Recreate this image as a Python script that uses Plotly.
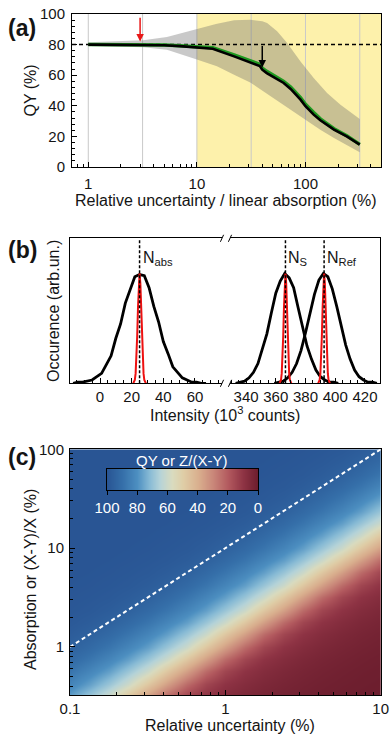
import math
import plotly.graph_objects as go

W, H = 391, 736
def fx(p): return p / W
def fy(p): return 1 - p / H

FONT = "Liberation Sans, Arial, Helvetica, sans-serif"
TXT = "#141414"
TICK = 15
TITLE = 16

# ---------------- Panel (a) data ----------------
grid_x = [1, 3.162, 10, 31.62, 100, 316.2]
qy_x = [1, 2, 3, 5, 7, 10, 14, 22, 33, 38, 40, 44, 63, 73, 90, 100, 119, 137, 183, 240, 316]
qy_black = [80, 80, 80, 79.6, 79, 78.2, 77.3, 72.3, 68, 66, 63.6, 61.4, 54.9, 51, 44, 39.7, 34.2, 30.5, 24.4, 20, 14.6]
qy_green = [80, 80, 80, 79.8, 79.3, 78.6, 78, 73.2, 68.9, 67.1, 64.6, 62.5, 56, 52.3, 45.4, 41, 35.6, 31.5, 25, 20.5, 14.8]
band_up_x = [1, 2, 3.2, 5.3, 10, 15, 22, 31, 40, 44.3, 54.8, 67.8, 90, 119, 158, 210, 316]
band_up = [81.5, 82, 82.8, 85, 90.2, 93.5, 95.9, 96.3, 95.2, 94.1, 88.7, 81, 69, 58.2, 48.4, 40.7, 31.4]
band_lo_x = [1, 2, 3.2, 5.3, 10, 15.3, 22, 31, 44, 63, 100, 137, 183, 316]
band_lo = [79.3, 78.8, 78.2, 76.7, 70.2, 65.8, 60.3, 55.3, 48.4, 40.7, 30.9, 24.4, 19, 9.6]
qy_ref = 80
xrange_a = [0.708, 496]
yellow_from = 10
red_arrow = dict(x=3, tail=98.5, tip=82)
black_arrow = dict(x=40, tail=80, tip=65)

# ---------------- Panel (b) data ----------------
abs_x = [-17, -14, -11, -8, -5, -2, 1, 4, 7, 10, 13, 16, 19, 22, 25, 28, 31, 34, 37, 40, 43, 46, 49, 52, 55, 58, 61, 64, 67]
abs_y = [0.00, 0.01, 0.01, 0.02, 0.03, 0.06, 0.09, 0.17, 0.25, 0.41, 0.54, 0.73, 0.85, 0.97, 0.99, 0.98, 0.87, 0.70, 0.56, 0.38, 0.27, 0.15, 0.10, 0.05, 0.03, 0.01, 0.01, 0.00, 0.00]
s_x = [333, 336, 339, 342, 345, 348, 351, 354, 357, 360, 363, 366, 369, 372, 375, 378, 381, 384, 387, 390, 393, 396, 399, 402]
s_y = [0.00, 0.01, 0.02, 0.05, 0.10, 0.18, 0.31, 0.45, 0.64, 0.82, 0.93, 1.00, 0.96, 0.87, 0.69, 0.52, 0.34, 0.22, 0.12, 0.06, 0.03, 0.01, 0.01, 0.00]
ref_x = [359, 362, 365, 368, 371, 374, 377, 380, 383, 386, 389, 392, 395, 398, 401, 404, 407, 410, 413, 416, 419, 422, 425, 428]
ref_y = [0.00, 0.01, 0.02, 0.05, 0.10, 0.18, 0.30, 0.46, 0.64, 0.81, 0.94, 1.00, 0.97, 0.86, 0.70, 0.52, 0.35, 0.22, 0.12, 0.06, 0.03, 0.01, 0.01, 0.00]
peak_abs, peak_s, peak_ref = 25, 366.5, 392.5
red_dx = [-4, -3, -2.5, -2, -1.5, -1, -0.5, 0, 0.5, 1, 1.5, 2, 2.5, 3, 4]
red_y = [0, 0.03, 0.09, 0.22, 0.43, 0.69, 0.91, 1.0, 0.91, 0.69, 0.43, 0.22, 0.09, 0.03, 0]
b_ymax = 1.32
label_y = 1.14

# ---------------- Panel (c) data ----------------
lu = [-1, -0.875, -0.75, -0.625, -0.5, -0.375, -0.25, -0.125, 0, 0.125, 0.25, 0.375, 0.5, 0.625, 0.75, 0.875, 1]
la = [-0.5, -0.375, -0.25, -0.125, 0, 0.125, 0.25, 0.375, 0.5, 0.625, 0.75, 0.875, 1, 1.125, 1.25, 1.375, 1.5, 1.625, 1.75, 1.875, 2]
# QY as a function of log10(absorption / uncertainty), from -1.5 to 3 in steps of 0.125
qy_profile = [0.3, 0.5, 0.8, 1.2, 1.8, 2.6, 3.6, 5, 7, 10, 15, 24, 36, 48, 60, 69, 77, 83, 88, 92, 95, 97, 98.3, 99, 99.5, 99.8,
              100, 100, 100, 100, 100, 100, 100, 100, 100, 100, 100]
diag_u = [0.1, 10]
diag_a = [1, 100]
cb_vals = [0, 10, 20, 30, 40, 50, 60, 70, 80, 90, 100]
cb_ticks = [100, 80, 60, 40, 20, 0]

colorscale = [
    [0.0, '#6b1d2d'], [0.1, '#8e3344'], [0.2, '#b2595e'], [0.3, '#c98679'],
    [0.4, '#d9af8e'], [0.5, '#dfcda6'], [0.57, '#d9dbbf'], [0.65, '#b5d3d8'],
    [0.72, '#87bad5'], [0.8, '#4d8fc1'], [0.9, '#356fa9'], [1.0, '#295594'],
]

fig = go.Figure()

# ---- (a)
bx = band_up_x + band_lo_x[::-1]
by = band_up + band_lo[::-1]
fig.add_trace(go.Scatter(x=bx, y=by, fill='toself', fillcolor='rgba(105,105,105,0.36)',
                         mode='lines', line=dict(width=0), hoverinfo='skip', xaxis='x', yaxis='y'))
fig.add_trace(go.Scatter(x=xrange_a, y=[qy_ref, qy_ref], mode='lines',
                         line=dict(color='black', width=1.5, dash='4px,3px'), xaxis='x', yaxis='y'))
fig.add_trace(go.Scatter(x=qy_x, y=qy_green, mode='lines', line=dict(color='#1f9a1f', width=3.5),
                         xaxis='x', yaxis='y'))
fig.add_trace(go.Scatter(x=qy_x, y=qy_black, mode='lines', line=dict(color='black', width=2.6),
                         xaxis='x', yaxis='y'))

# ---- (b)
fig.add_trace(go.Scatter(x=abs_x, y=abs_y, mode='lines', line=dict(color='black', width=2.8), xaxis='x2', yaxis='y2'))
fig.add_trace(go.Scatter(x=s_x, y=s_y, mode='lines', line=dict(color='black', width=2.8), xaxis='x3', yaxis='y3'))
fig.add_trace(go.Scatter(x=ref_x, y=ref_y, mode='lines', line=dict(color='black', width=2.8), xaxis='x3', yaxis='y3'))
for pk, xa, ya in [(peak_abs, 'x2', 'y2'), (peak_s, 'x3', 'y3'), (peak_ref, 'x3', 'y3')]:
    fig.add_trace(go.Scatter(x=[pk + d for d in red_dx], y=red_y, mode='lines',
                             line=dict(color='#ee1111', width=2), xaxis=xa, yaxis=ya))
    fig.add_trace(go.Scatter(x=[pk, pk], y=[0, b_ymax], mode='lines',
                             line=dict(color='black', width=1.5, dash='3px,2px'), xaxis=xa, yaxis=ya))

# ---- (c)
u_vals = [10 ** v for v in lu]
a_vals = [10 ** v for v in la]
z = [[qy_profile[16 + i - j] for j in range(len(lu))] for i in range(len(la))]
fig.add_trace(go.Heatmap(x=u_vals, y=a_vals, z=z, zmin=0, zmax=100, colorscale=colorscale,
                         zsmooth='best', showscale=False, hoverinfo='skip', xaxis='x4', yaxis='y4'))
fig.add_trace(go.Scatter(x=diag_u, y=diag_a, mode='lines', line=dict(color='white', width=2, dash='4px,3px'),
                         xaxis='x4', yaxis='y4'))
fig.add_trace(go.Heatmap(x=cb_vals, y=[0], z=[cb_vals], zmin=0, zmax=100, colorscale=colorscale,
                         zsmooth='best', showscale=False, hoverinfo='skip', xaxis='x5', yaxis='y5'))

axcommon = dict(showline=True, linecolor='black', linewidth=1, showgrid=False, zeroline=False,
                ticks='inside', ticklen=5, tickcolor='black', tickwidth=1,
                tickfont=dict(family=FONT, size=TICK, color=TXT), automargin=False)

dec = lambda d: [m * d for m in range(2, 10)]

layout = dict(
    width=W, height=H, margin=dict(l=0, r=0, t=0, b=0),
    paper_bgcolor='white', plot_bgcolor='rgba(0,0,0,0)', showlegend=False,
    font=dict(family=FONT, size=TICK, color=TXT),
    xaxis=dict(axcommon, domain=[fx(72), fx(381)], anchor='y', type='log',
               range=[math.log10(xrange_a[0]), math.log10(xrange_a[1])],
               tickvals=[1, 10, 100], ticktext=['1', '10', '100'], mirror=True, ticklabelstandoff=3,
               minor=dict(ticks='inside', ticklen=3, tickcolor='black', tickmode='array',
                          tickvals=dec(0.1) + dec(1) + dec(10) + dec(100))),
    yaxis=dict(axcommon, domain=[fy(167), fy(14)], anchor='x', range=[0, 100], tickvals=[0, 20, 40, 60, 80, 100],
               mirror=True, ticklabelstandoff=3,
               minor=dict(ticks='inside', ticklen=3, tickcolor='black', dtick=4, tick0=0)),
    xaxis2=dict(axcommon, domain=[fx(70), fx(222)], anchor='y2', range=[-18.95, 77.07],
                tickvals=[0, 20, 40, 60], mirror=True, ticklabelstandoff=0,
                minor=dict(ticks='inside', ticklen=3, tickcolor='black', dtick=5, tick0=0)),
    yaxis2=dict(axcommon, domain=[fy(383.3), fy(238.3)], anchor='x2', range=[0, b_ymax],
                showticklabels=False, ticks=''),
    xaxis3=dict(axcommon, domain=[fx(230), fx(380)], anchor='y3', range=[329.2, 430.1],
                tickvals=[340, 360, 380, 400, 420], mirror=True, ticklabelstandoff=0,
                minor=dict(ticks='inside', ticklen=3, tickcolor='black', dtick=5, tick0=0)),
    yaxis3=dict(axcommon, domain=[fy(383.3), fy(238.3)], anchor='x3', range=[0, b_ymax], side='right',
                showticklabels=False, ticks=''),
    xaxis4=dict(axcommon, domain=[fx(70), fx(380.7)], anchor='y4', type='log', range=[-1, 1],
                tickvals=[0.1, 1, 10], ticktext=['0.1', '1', '10'], mirror=True, ticklabelstandoff=0,
                minor=dict(ticks='inside', ticklen=3, tickcolor='black', tickmode='array',
                           tickvals=dec(0.1) + dec(1))),
    yaxis4=dict(axcommon, domain=[fy(695.3), fy(449.3)], anchor='x4', type='log', range=[-0.49, 2],
                tickvals=[1, 10, 100], ticktext=['1', '10', '100'], mirror=True, ticklabelstandoff=2,
                minor=dict(ticks='inside', ticklen=3, tickcolor='black', tickmode='array',
                           tickvals=dec(0.1) + dec(1) + dec(10))),
    xaxis5=dict(axcommon, domain=[fx(107), fx(258)], anchor='y5', range=[100, 0], tickvals=cb_ticks,
                ticks='outside', ticklen=4, mirror=True,
                tickfont=dict(family=FONT, size=TICK, color='white')),
    yaxis5=dict(axcommon, domain=[fy(490), fy(469)], anchor='x5', range=[-0.5, 0.5],
                showticklabels=False, ticks='', mirror=True),
)

shapes = [dict(type='rect', xref='x', yref='y domain', x0=yellow_from, x1=xrange_a[1], y0=0, y1=1,
               fillcolor='#fdf1ab', line=dict(width=0), layer='below')]
for g in grid_x:
    shapes.append(dict(type='line', xref='x', yref='y domain', x0=g, x1=g, y0=0, y1=1,
                       line=dict(color='#c9c9c9', width=1), layer='below'))
for bxp in [222, 230]:
    for byp in [238.3, 383.3]:
        shapes.append(dict(type='line', xref='paper', yref='paper',
                           x0=fx(bxp - 1.6), y0=fy(byp + 3.5), x1=fx(bxp + 1.6), y1=fy(byp - 3.5),
                           line=dict(color='black', width=1)))
layout['shapes'] = shapes

def txt(x, y, s, size=TITLE, angle=0, color=TXT, bold=False, **kw):
    d = dict(x=x, y=y, xref='paper', yref='paper', text=('<b>%s</b>' % s) if bold else s,
             showarrow=False, textangle=angle, font=dict(family=FONT, size=size, color=color),
             xanchor='center', yanchor='middle')
    d.update(kw)
    return d

ann = [
    txt(fx(22), fy(28), '(a)', size=23, bold=True),
    txt(fx(22), fy(250), '(b)', size=23, bold=True),
    txt(fx(22), fy(457), '(c)', size=23, bold=True),
    txt(fx(30), fy(90.5), 'QY (%)', angle=-90),
    txt(fx(226), fy(200), 'Relative uncertainty / linear absorption (%)'),
    txt(fx(53), fy(311), 'Occurence (arb.un.)', angle=-90),
    txt(fx(225), fy(414), 'Intensity (10<sup>3</sup> counts)'),
    txt(fx(30), fy(580), 'Absorption or (X-Y)/X (%)', angle=-90),
    txt(fx(229.5), fy(725), 'Relative uncertainty (%)'),
    txt(fx(181), fy(460), 'QY or Z/(X-Y)', size=15, color='white'),
]
for pk, xa, ya, lab in [(peak_abs, 'x2', 'y2', 'abs'), (peak_s, 'x3', 'y3', 'S'), (peak_ref, 'x3', 'y3', 'Ref')]:
    ann.append(dict(x=pk, y=label_y, xref=xa, yref=ya, text='N<sub>%s</sub>' % lab, showarrow=False,
                    xanchor='left', yanchor='middle', xshift=1, font=dict(family=FONT, size=16, color=TXT)))
for arr, col in [(red_arrow, '#e81818'), (black_arrow, 'black')]:
    lx = math.log10(arr['x'])
    ann.append(dict(x=lx, y=arr['tip'], ax=lx, ay=arr['tail'], xref='x', yref='y', axref='x', ayref='y',
                    text='', showarrow=True, arrowhead=2, arrowsize=1, arrowwidth=1.5, arrowcolor=col))
layout['annotations'] = ann

fig.update_layout(**layout)
fig.write_html("out.html", config={'displayModeBar': False},
               post_script="document.body.style.margin='0';document.body.style.padding='0';"
                           "document.documentElement.style.margin='0';")
